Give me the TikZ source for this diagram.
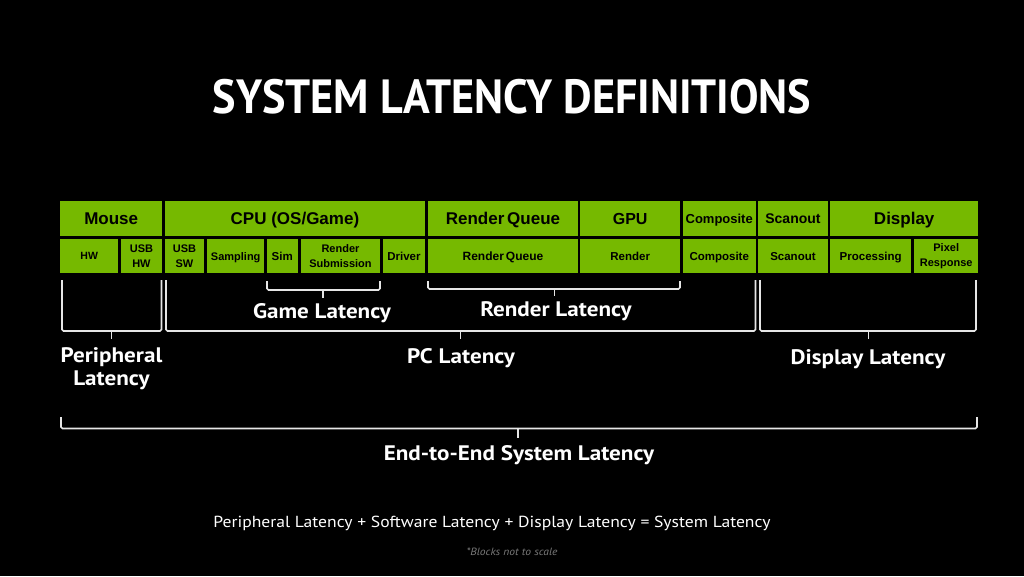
\documentclass[tikz,border=0pt]{standalone}
\usepackage{fontspec}
\setmainfont{Liberation Sans}
\newfontfamily\labfont[FakeStretch=1.1]{PT Sans}
\newfontfamily\titlefont[FakeStretch=0.92]{PT Sans}
\definecolor{nvgreen}{HTML}{76B900}
\definecolor{brkgray}{HTML}{E6E6E6}
\definecolor{notegray}{HTML}{7A7A7A}
\newcommand{\fs}[1]{\fontsize{#1}{#1}\selectfont}
\newcommand{\bracket}[6]{%
  \draw[brk] (#1,#3) -- (#1,#4) -- (#2,#4) -- (#2,#3);
  \draw[brk] (#5,#4) -- (#5,#6);}
\begin{document}
\begin{tikzpicture}[x=1pt,y=-1pt,
  blk/.style={fill=nvgreen, anchor=north west, inner sep=0pt, align=center, text=black},
  toprow/.style={blk, minimum height=35, text height=0.716*#1, text depth=0pt, font=\bfseries\fs{#1}},
  toprow/.default=17,
  botrow/.style={blk, minimum height=34, text height=0.716*#1, text depth=0pt, font=\bfseries\fs{#1}},
  botrow/.default=11.5,
  bottwo/.style={blk, minimum height=34, font=\bfseries\fontsize{11}{14.5}\selectfont},
  brk/.style={draw=brkgray, line width=1.6pt, rounded corners=1.5pt},
  lbl/.style={text=white, align=center, anchor=base, inner sep=0pt, font=\labfont\bfseries\fontsize{21}{23}\selectfont}]
\fill[black] (0,0) rectangle (1024,576);
\useasboundingbox (0,0) rectangle (1024,576);

% title
\node[text=white, anchor=base, inner sep=0pt, font=\titlefont\bfseries\fs{48}] (title) at (512,113) {SYSTEM LATENCY DEFINITIONS};

% top row
\node[toprow, minimum width=102] (mouse) at (60,201) {Mouse};
\node[toprow, minimum width=260.5] (cpu) at (164.5,201) {CPU (OS/Game)};
\node[toprow, minimum width=149.5] (rq) at (428,201) {Render\,Queue};
\node[toprow=16, minimum width=100] (gpu) at (580,201) {GPU};
\node[toprow=13, minimum width=73] (comp) at (682.5,201) {Composite};
\node[toprow=14, minimum width=69.5] (scan) at (758,201) {Scanout};
\node[toprow, minimum width=148] (disp) at (830,201) {Display};

% bottom row
\node[botrow=10.5, minimum width=58] (hw) at (60,239) {HW};
\node[bottwo, minimum width=41.5] (usbhw) at (120.5,239) {USB\\HW};
\node[bottwo, minimum width=39.5] (usbsw) at (164.5,239) {USB\\SW};
\node[botrow=11, minimum width=57] (samp) at (207,239) {Sampling};
\node[botrow, minimum width=31] (sim) at (266.5,239) {Sim};
\node[bottwo, minimum width=79.5] (rsub) at (300.5,239) {Render\\Submission};
\node[botrow, minimum width=42.5] (drv) at (382.5,239) {Driver};
\node[botrow=12, minimum width=149.5] (rq2) at (428,239) {Render\,Queue};
\node[botrow, minimum width=100] (rend) at (580,239) {Render};
\node[botrow, minimum width=73] (comp2) at (682.5,239) {Composite};
\node[botrow, minimum width=69.5] (scan2) at (758,239) {Scanout};
\node[botrow, minimum width=81] (proc) at (830,239) {Processing};
\node[bottwo, minimum width=64] (pix) at (914,239) {Pixel\\Response};

% brackets
\bracket{62}{161.5}{280}{331}{111.5}{339}
\bracket{166}{755.5}{280}{331}{460.5}{339}
\bracket{760}{976}{280}{331}{868.5}{339}
\bracket{267}{380}{281}{290}{323}{298}
\bracket{428}{680}{281}{289}{554.5}{296}
\bracket{61}{977}{417}{428.5}{518}{438}

% labels
\node[lbl] (game) at (322,318.5) {Game Latency};
\node[lbl] (render) at (556,316.5) {Render Latency};
\node[lbl, anchor=north] (peri) at (111.5,347) {Peripheral\\Latency};
\node[lbl] (pc) at (461,363.5) {PC Latency};
\node[lbl] (displat) at (868,364) {Display Latency};
\node[lbl] (e2e) at (519,460) {End-to-End System Latency};

\node[text=white, anchor=base, inner sep=0pt, font=\labfont\fs{16}] (formula) at (492,527) {Peripheral Latency + Software Latency + Display Latency = System Latency};
\node[text=notegray, anchor=base, inner sep=0pt, font=\labfont\itshape\fs{10.5}] (note) at (512,555.5) {*Blocks not to scale};
\end{tikzpicture}
\end{document}
